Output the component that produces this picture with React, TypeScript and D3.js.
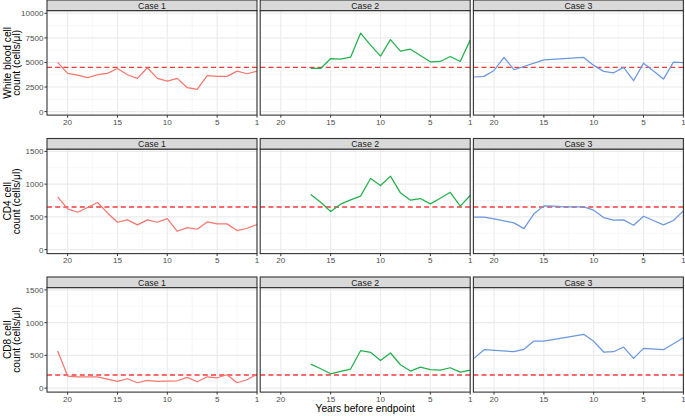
import React from "react";
import * as d3 from "d3";

// ---------- data ----------
const cases = ["Case 1", "Case 2", "Case 3"];
const rowTitles = [
  ["White blood cell", "count (cells/\u03bcl)"],
  ["CD4 cell", "count (cells/\u03bcl)"],
  ["CD8 cell", "count (cells/\u03bcl)"],
];
const refValues = [4500, 650, 200];
const xTicks = [20, 15, 10, 5, 1];
const xMinor = [17.5, 12.5, 7.5, 3];
const yTicksRow = [
  [0, 2500, 5000, 7500, 10000],
  [0, 500, 1000, 1500],
  [0, 500, 1000, 1500],
];
const yMinorRow = [
  [1250, 3750, 6250, 8750],
  [250, 750, 1250],
  [250, 750, 1250],
];
const yDomains = [
  [-356, 10275],
  [-61, 1535],
  [-61, 1535],
];

const case1Years = [21, 20, 19, 18, 17, 16, 15, 14, 13, 12, 11, 10, 9, 8, 7, 6, 5, 4, 3, 2, 1];
const case2Years = [17, 16, 15, 14, 13, 12, 11, 10, 9, 8, 7, 6, 5, 4, 3, 2, 1];

const wbcCase1 = [5000, 3890, 3700, 3450, 3750, 3890, 4390, 3750, 3380, 4460, 3380, 3110, 3380, 2430, 2260, 3650, 3580, 3580, 4120, 3850, 4120];
const wbcCase2 = [4390, 4390, 5400, 5340, 5540, 7980, 6760, 5640, 7330, 6150, 6350, 5710, 5070, 5100, 5600, 5100, 7270];
const wbcCase3Years = [22, 21, 20, 19, 18, 15, 11, 10, 9, 8, 7, 6, 5, 4, 3, 2, 1];
const wbcCase3 = [3520, 3580, 4190, 5510, 4260, 5270, 5510, 4700, 4090, 3950, 4500, 3140, 4930, 4120, 3310, 5040, 4970];

const cd4Case1 = [806, 622, 571, 643, 719, 560, 418, 454, 377, 454, 418, 474, 280, 337, 311, 423, 393, 393, 291, 326, 383];
const cd4Case2 = [842, 724, 581, 694, 760, 816, 1086, 979, 1122, 867, 755, 780, 699, 785, 875, 663, 826];
const cd4Case3Years = [22, 21, 20, 18, 17, 16, 15, 14, 13, 12, 11, 10, 9, 8, 7, 6, 5, 4, 3, 2, 1];
const cd4Case3 = [495, 495, 469, 408, 321, 546, 668, 663, 653, 653, 653, 602, 490, 449, 454, 372, 510, 444, 377, 444, 592];

const cd8Case1 = [566, 184, 173, 173, 173, 138, 102, 143, 82, 117, 102, 107, 112, 163, 97, 173, 158, 204, 82, 128, 214];
const cd8Case2 = [367, 296, 219, 255, 291, 571, 546, 423, 536, 357, 260, 321, 281, 275, 311, 245, 275];
const cd8Case3Years = [22, 21, 18, 17, 16, 15, 11, 10, 9, 8, 7, 6, 5, 3, 1];
const cd8Case3 = [454, 587, 556, 592, 719, 719, 821, 714, 551, 556, 627, 454, 607, 587, 770];

const seriesGrid = [
  [
    [case1Years, wbcCase1],
    [case2Years, wbcCase2],
    [wbcCase3Years, wbcCase3],
  ],
  [
    [case1Years, cd4Case1],
    [case2Years, cd4Case2],
    [cd4Case3Years, cd4Case3],
  ],
  [
    [case1Years, cd8Case1],
    [case2Years, cd8Case2],
    [cd8Case3Years, cd8Case3],
  ],
];

const caseColors = ["#F8766D", "#22B24C", "#6A98E0"];

// ---------- layout ----------
const W = 685;
const H = 416;
const panelLeft0 = 47;
const panelW = 210;
const gapX = 3.2;
const rowTops = [0, 138.5, 277];
const stripH = 10.6;
const panelH = 104.5;
const FONT = "'Liberation Sans', Arial, Helvetica, sans-serif";

export default function App() {
  const panels: React.ReactNode[] = [];
  rowTops.forEach((rt, r) => {
    const top = rt + stripH;
    const bottom = top + panelH;
    const y = d3.scaleLinear().domain(yDomains[r]).range([bottom, top]);
    cases.forEach((cname, c) => {
      const left = panelLeft0 + c * (panelW + gapX);
      const right = left + panelW;
      const x = d3.scaleLinear().domain([22.07, 1]).range([left, right]);
      const [yrs, vals] = seriesGrid[r][c] as [number[], number[]];
      const pts: [number, number][] = yrs.map((yr, i) => [yr, vals[i]]);
      const line = d3
        .line<[number, number]>()
        .x((d) => x(d[0]))
        .y((d) => y(d[1]));
      const key = `${r}-${c}`;
      panels.push(
        <g key={key}>
          <rect x={left} y={top} width={panelW} height={panelH} fill="#FFFFFF" />
          {yMinorRow[r].map((t) => (
            <line key={"ym" + t} x1={left} x2={right} y1={y(t)} y2={y(t)} stroke="#F2F2F2" strokeWidth={0.6} />
          ))}
          {xMinor.map((t) => (
            <line key={"xm" + t} x1={x(t)} x2={x(t)} y1={top} y2={bottom} stroke="#F2F2F2" strokeWidth={0.6} />
          ))}
          {yTicksRow[r].map((t) => (
            <line key={"yM" + t} x1={left} x2={right} y1={y(t)} y2={y(t)} stroke="#EBEBEB" strokeWidth={1.1} />
          ))}
          {xTicks.map((t) => (
            <line key={"xM" + t} x1={x(t)} x2={x(t)} y1={top} y2={bottom} stroke="#EBEBEB" strokeWidth={1.1} />
          ))}
          <line
            x1={left}
            x2={right}
            y1={y(refValues[r])}
            y2={y(refValues[r])}
            stroke="#F23A3A"
            strokeWidth={1.4}
            strokeDasharray="5,3.2"
          />
          <path d={line(pts) || ""} fill="none" stroke={caseColors[c]} strokeWidth={1.25} strokeLinejoin="round" />
          <rect x={left} y={top} width={panelW} height={panelH} fill="none" stroke="#333333" strokeWidth={1.1} />
          <rect x={left} y={rt} width={panelW} height={stripH} fill="#D9D9D9" stroke="#333333" strokeWidth={1.1} />
          <text x={(left + right) / 2} y={rt + 8.6} textAnchor="middle" fontSize={8.8} fill="#1A1A1A" fontFamily={FONT}>
            {cname}
          </text>
          {xTicks.map((t) => (
            <g key={"xt" + t}>
              <line x1={x(t)} x2={x(t)} y1={bottom} y2={bottom + 2.5} stroke="#333333" strokeWidth={1} />
              <text x={x(t)} y={bottom + 9.5} textAnchor="middle" fontSize={8.1} fill="#4D4D4D" fontFamily={FONT}>
                {t}
              </text>
            </g>
          ))}
          {c === 0 &&
            yTicksRow[r].map((t) => (
              <g key={"yt" + t}>
                <line x1={left - 2.5} x2={left} y1={y(t)} y2={y(t)} stroke="#333333" strokeWidth={1} />
                <text
                  x={left - 3.6}
                  y={y(t) + 2.9}
                  textAnchor="end"
                  fontSize={8.1}
                  fill="#4D4D4D"
                  fontFamily={FONT}
                >
                  {t}
                </text>
              </g>
            ))}
        </g>
      );
    });
    const cy = top + panelH / 2;
    panels.push(
      <g key={"title" + r}>
        <text
          transform={`translate(10.5,${cy}) rotate(-90)`}
          textAnchor="middle"
          fontSize={10.2}
          fill="#000000"
          fontFamily={FONT}
        >
          {rowTitles[r][0]}
        </text>
        <text
          transform={`translate(19.8,${cy}) rotate(-90)`}
          textAnchor="middle"
          fontSize={10.2}
          fill="#000000"
          fontFamily={FONT}
        >
          {rowTitles[r][1]}
        </text>
      </g>
    );
  });

  return (
    <svg
      width={W}
      height={H}
      viewBox={`0 0 ${W} ${H}`}
      style={{ position: "absolute", left: 0, top: 0, background: "#FFFFFF" }}
    >
      <rect x={0} y={0} width={W} height={H} fill="#FFFFFF" />
      {panels}
      <text
        x={panelLeft0 + (3 * panelW + 2 * gapX) / 2}
        y={412}
        textAnchor="middle"
        fontSize={10.2}
        fill="#000000"
        fontFamily={FONT}
      >
        Years before endpoint
      </text>
    </svg>
  );
}
